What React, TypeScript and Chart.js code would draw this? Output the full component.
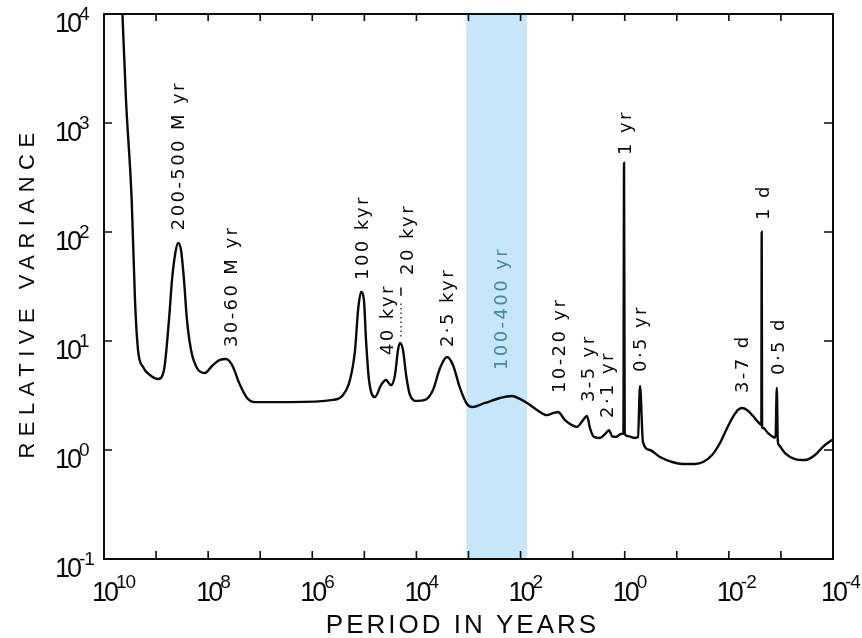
import React, { useEffect, useRef } from "react";
import { Chart, registerables } from "chart.js";

Chart.register(...registerables);

// ---- data (period in years, relative variance) ----
const periods = [
  4.51e9, 3.78e9, 2.94e9, 2.54e9, 2.22e9, 1.78e9, 1.31e9, 9.18e8, 7.05e8, 5.65e8, 4.94e8, 4.33e8,
  3.79e8, 3.32e8, 2.91e8, 2.55e8, 2.13e8, 1.64e8, 1.15e8, 8.43e7, 5.92e7, 4.54e7,
  3.48e7, 2.44e7, 1.79e7, 1.26e7, 2.68e6, 4.0e5, 2.57e5, 1.89e5, 1.51e5, 1.32e5,
  1.16e5, 1.02e5, 9.29e4, 8.15e4, 6.24e4, 4.79e4, 3.84e4, 3.08e4, 2.58e4, 2.26e4,
  2.07e4, 1.81e4, 1.58e4, 1.33e4, 9.75e3, 6.84e3, 4.81e3, 3.52e3, 2.59e3, 1.99e3,
  1.46e3, 1.07e3, 857, 482, 248, 146, 103, 75.2, 48.3, 31.0,
  23.8, 19.1, 14.0, 10.3, 8.24, 6.32, 5.3, 4.65, 3.89, 2.98,
  2.39, 2.0, 1.75, 1.47, 1.18, 1.06, 1.03, 1.0, 0.867, 0.635,
  0.556, 0.508, 0.446, 0.327, 0.21, 0.123, 0.0759, 0.0447, 0.0313, 0.021,
  0.0148, 0.0108, 0.00832, 0.00667, 0.00558, 0.00448, 0.00344, 0.00275, 0.00238, 0.00234,
  0.0023, 0.00221, 0.00177, 0.00142, 0.00127, 0.0012, 0.00115, 0.00109, 8.34e-4, 5.36e-4,
  3.44e-4, 2.21e-4, 1.56e-4, 1.04e-4,
];
const variances = [
  1.26e4, 1626, 197, 23.8, 8.26, 5.77, 4.88, 4.48, 5.42, 15.6, 36.3, 61.5,
  79.3, 68.4, 36.3, 15.6, 8.26, 5.65, 5.08, 5.9, 6.7, 6.84,
  6.03, 3.94, 3.0, 2.75, 2.75, 2.88, 3.2, 4.39, 8.26, 19.2,
  28.2, 23.8, 10.2, 4.39, 3.06, 3.94, 4.39, 3.94, 4.88, 8.26,
  9.59, 8.26, 4.88, 3.2, 2.82, 2.88, 3.55, 5.65, 7.13, 6.03,
  3.71, 2.64, 2.48, 2.7, 3.0, 3.13, 2.94, 2.7, 2.33, 2.09,
  2.18, 2.23, 1.88, 1.69, 1.63, 1.88, 2.05, 1.59, 1.32, 1.29,
  1.4, 1.52, 1.34, 1.32, 1.4, 1.41, 430, 1.41, 1.34, 1.29,
  1.32, 3.86, 1.18, 1.0, 0.863, 0.776, 0.745, 0.745, 0.776, 0.9,
  1.16, 1.59, 2.01, 2.33, 2.43, 2.33, 2.05, 1.81, 1.7, 100,
  1.62, 1.59, 1.43, 1.32, 1.3, 3.71, 1.22, 1.11, 0.938, 0.826,
  0.81, 0.9, 1.07, 1.24,
];

// shaded band (period range, years) and its label
const bandRange = [1100, 75];
const bandLabel = "100-400 yr";
const bandLabelPeriod = 248;
const bandLabelVariance = 5.42;

// peak annotations (text starts at the given point and runs upward)
const peakLabels = [
  "200-500 M yr", "30-60 M yr", "100 kyr", "40 kyr", "20 kyr", "2·5 kyr",
  "10-20 yr", "3-5 yr", "2·1 yr", "1 yr", "0·5 yr", "3-7 d", "1 d", "0·5 d",
];
const peakLabelPeriods = [
  3.96e8, 3.8e7, 1.16e5, 3.84e4, 1.58e4, 2.7e3, 18.3, 5.3, 2.19, 1.0, 0.53, 5.6e-3, 2.3e-3, 1.14e-3,
];
const peakLabelVariances = [104, 8.8, 36.3, 7.44, 40.4, 8.8, 3.33, 2.75, 1.97, 508, 5.2, 3.33, 129, 4.88];

// dotted leader under the 20 kyr label
const leaderPeriod = 1.98e4;
const leaderDotted = [11, 23];
const leaderDash = [26, 31];

// axes
const xMin = 1e-4;
const xMax = 1e10;
const yMin = 0.1;
const yMax = 1e4;
const xTickExponents = [10, 9, 8, 7, 6, 5, 4, 3, 2, 1, 0, -1, -2, -3, -4];
const xLabelExponents = ["10", "8", "6", "4", "2", "0", "-2", "-4"];
const yLabelExponents = ["4", "3", "2", "1", "0", "-1"];
const xTitle = "PERIOD IN YEARS";
const yTitle = "RELATIVE VARIANCE";

const BAND_COLOR = "#c6e7fa";
const BAND_TEXT = "#4a84aa";
const INK = "#0a0a0a";

const overlay = {
  id: "overlay",
  beforeDatasetsDraw(chart: any) {
    const { ctx, chartArea: a } = chart;
    const xs = chart.scales.x;
    const x1 = xs.getPixelForValue(bandRange[0]);
    const x2 = xs.getPixelForValue(bandRange[1]);
    ctx.save();
    ctx.fillStyle = BAND_COLOR;
    ctx.fillRect(Math.min(x1, x2), a.top, Math.abs(x2 - x1), a.bottom - a.top);
    ctx.restore();
  },
  afterDatasetsDraw(chart: any) {
    const { ctx, chartArea: a } = chart;
    const xs = chart.scales.x;
    const ys = chart.scales.y;
    ctx.save();
    // frame
    ctx.strokeStyle = INK;
    ctx.lineWidth = 2;
    ctx.strokeRect(a.left, a.top, a.right - a.left, a.bottom - a.top);
    // inward ticks
    ctx.lineWidth = 1.6;
    ctx.beginPath();
    xTickExponents.forEach((e) => {
      const px = xs.getPixelForValue(Math.pow(10, e));
      if (px <= a.left + 1 || px >= a.right - 1) return;
      ctx.moveTo(px, a.bottom);
      ctx.lineTo(px, a.bottom - 8);
      ctx.moveTo(px, a.top);
      ctx.lineTo(px, a.top + 7);
    });
    yLabelExponents.forEach((e) => {
      const py = ys.getPixelForValue(Math.pow(10, Number(e)));
      if (py <= a.top + 1 || py >= a.bottom - 1) return;
      ctx.moveTo(a.left, py);
      ctx.lineTo(a.left + 8, py);
      ctx.moveTo(a.right, py);
      ctx.lineTo(a.right - 9, py);
    });
    ctx.stroke();

    // tick labels "10" with superscript
    ctx.fillStyle = INK;
    const baseFont = '27px "Liberation Sans"';
    const supFont = '19px "Liberation Sans"';
    xLabelExponents.forEach((e) => {
      const px = xs.getPixelForValue(Math.pow(10, Number(e)));
      ctx.font = baseFont;
      (ctx as any).letterSpacing = "-3px";
      ctx.textAlign = "center";
      ctx.textBaseline = "alphabetic";
      const w = ctx.measureText("10").width;
      ctx.fillText("10", px, 601);
      ctx.font = supFont;
      (ctx as any).letterSpacing = "-1px";
      ctx.textAlign = "left";
      ctx.fillText(e, px + w / 2, 588);
    });
    yLabelExponents.forEach((e) => {
      const py = ys.getPixelForValue(Math.pow(10, Number(e)));
      ctx.font = baseFont;
      (ctx as any).letterSpacing = "-3px";
      ctx.textAlign = "right";
      ctx.textBaseline = "alphabetic";
      ctx.fillText("10", 79, py + 18);
      ctx.font = supFont;
      (ctx as any).letterSpacing = "-1px";
      ctx.textAlign = "left";
      ctx.fillText(e, 79, py + 6);
    });

    // axis titles
    (ctx as any).letterSpacing = "3px";
    ctx.font = '26px "Liberation Sans"';
    ctx.textAlign = "center";
    ctx.textBaseline = "alphabetic";
    ctx.fillText(xTitle, (a.left + a.right) / 2 - 6, 633);
    ctx.save();
    (ctx as any).letterSpacing = "6.5px";
    ctx.font = '22px "Liberation Sans"';
    ctx.translate(34, (a.top + a.bottom) / 2 + 6);
    ctx.rotate(-Math.PI / 2);
    ctx.fillText(yTitle, 0, 0);
    ctx.restore();

    // peak annotations
    const drawRot = (text: string, p: number, v: number, color: string) => {
      const px = xs.getPixelForValue(p);
      const py = ys.getPixelForValue(v);
      ctx.save();
      ctx.fillStyle = color;
      ctx.font = '18px "DejaVu Sans"';
      (ctx as any).letterSpacing = "2.4px";
      ctx.textAlign = "left";
      ctx.textBaseline = "alphabetic";
      ctx.translate(px + 6.5, py);
      ctx.rotate(-Math.PI / 2);
      ctx.fillText(text, 0, 0);
      ctx.restore();
    };
    peakLabels.forEach((t, i) => drawRot(t, peakLabelPeriods[i], peakLabelVariances[i], INK));
    drawRot(bandLabel, bandLabelPeriod, bandLabelVariance, BAND_TEXT);

    // leader under 20 kyr
    const lx = xs.getPixelForValue(leaderPeriod);
    ctx.strokeStyle = INK;
    ctx.lineWidth = 1.2;
    ctx.setLineDash([1.5, 3]);
    ctx.beginPath();
    ctx.moveTo(lx, ys.getPixelForValue(leaderDotted[0]));
    ctx.lineTo(lx, ys.getPixelForValue(leaderDotted[1]));
    ctx.stroke();
    ctx.setLineDash([]);
    ctx.lineWidth = 1.5;
    ctx.beginPath();
    ctx.moveTo(lx, ys.getPixelForValue(leaderDash[0]));
    ctx.lineTo(lx, ys.getPixelForValue(leaderDash[1]));
    ctx.stroke();
    ctx.restore();
  },
};

export default function App() {
  const ref = useRef<HTMLCanvasElement | null>(null);
  useEffect(() => {
    if (!ref.current) return;
    const chart = new Chart(ref.current, {
      type: "line",
      data: {
        datasets: [
          {
            data: periods.map((p, i) => ({ x: p, y: variances[i] })),
            borderColor: INK,
            borderWidth: 2.4,
            pointRadius: 0,
            fill: false,
            cubicInterpolationMode: "monotone",
          } as any,
        ],
      },
      options: {
        animation: false,
        responsive: false,
        devicePixelRatio: 1,
        events: [],
        layout: { padding: { left: 104, right: 29, top: 14, bottom: 79 } },
        plugins: { legend: { display: false }, tooltip: { enabled: false } },
        scales: {
          x: { type: "logarithmic", reverse: true, min: xMin, max: xMax, display: false },
          y: { type: "logarithmic", min: yMin, max: yMax, display: false },
        },
      } as any,
      plugins: [overlay],
    });
    return () => chart.destroy();
  }, []);
  return (
    <div style={{ position: "fixed", left: 0, top: 0, width: 862, height: 638, background: "#fff" }}>
      <canvas ref={ref} width={862} height={638} style={{ display: "block", width: 862, height: 638 }} />
    </div>
  );
}
